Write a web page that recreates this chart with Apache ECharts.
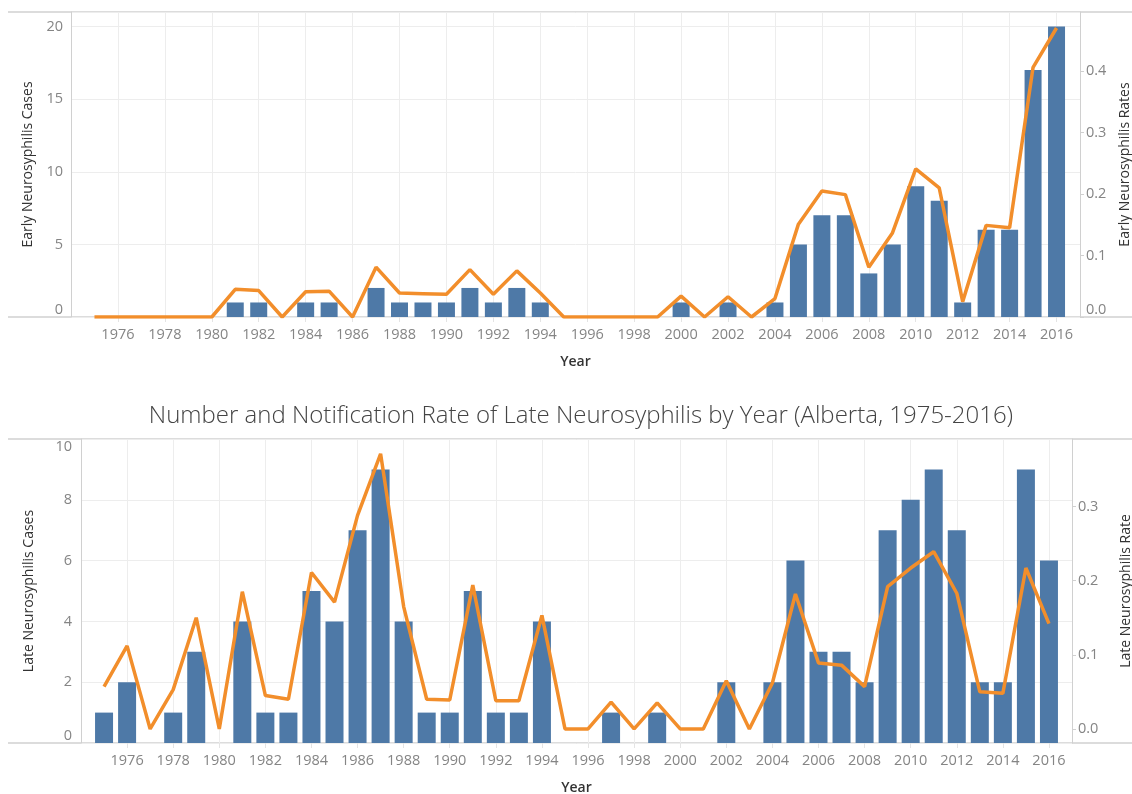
<!DOCTYPE html>
<html lang="en">
  <head>
    <meta charset="UTF-8" />
    <title>Early and Late Neurosyphilis, Alberta 1975-2016</title>
    <script src="https://cdn.jsdelivr.net/npm/echarts@6/dist/echarts.min.js"></script>
    <style>
      html, body { margin: 0; padding: 0; background: #fff; }
      #chart { width: 1132px; height: 794px; }
    </style>
  </head>
  <body>
    <div id="chart"></div>
    <script>
      // years on the x axis
      const years = [
        1975, 1976, 1977, 1978, 1979, 1980, 1981, 1982, 1983, 1984,
        1985, 1986, 1987, 1988, 1989, 1990, 1991, 1992, 1993, 1994,
        1995, 1996, 1997, 1998, 1999, 2000, 2001, 2002, 2003, 2004,
        2005, 2006, 2007, 2008, 2009, 2010, 2011, 2012, 2013, 2014,
        2015, 2016
      ];

      // early neurosyphilis (top panel)
      const earlyCases = [
        0, 0, 0, 0, 0, 0, 1, 1, 0, 1,
        1, 0, 2, 1, 1, 1, 2, 1, 2, 1,
        0, 0, 0, 0, 0, 1, 0, 1, 0, 1,
        5, 7, 7, 3, 5, 9, 8, 1, 6, 6,
        17, 20
      ];
      const earlyRates = [
        0, 0, 0, 0, 0, 0, 0.045, 0.043, 0, 0.041,
        0.042, 0, 0.081, 0.039, 0.038, 0.037, 0.077, 0.037, 0.075, 0.039,
        0, 0, 0, 0, 0, 0.034, 0, 0.033, 0, 0.030,
        0.151, 0.205, 0.199, 0.081, 0.136, 0.241, 0.210, 0.025, 0.149, 0.145,
        0.406, 0.470
      ];

      // late neurosyphilis (bottom panel)
      const lateCases = [
        1, 2, 0, 1, 3, 0, 4, 1, 1, 5,
        4, 7, 9, 4, 1, 1, 5, 1, 1, 4,
        0, 0, 1, 0, 1, 0, 0, 2, 0, 2,
        6, 3, 3, 2, 7, 8, 9, 7, 2, 2,
        9, 6
      ];
      const lateRates = [
        0.057, 0.112, 0, 0.053, 0.150, 0, 0.185, 0.045, 0.040, 0.211,
        0.171, 0.288, 0.371, 0.165, 0.040, 0.039, 0.194, 0.038, 0.038, 0.153,
        0, 0, 0.036, 0, 0.035, 0, 0, 0.065, 0, 0.062,
        0.182, 0.089, 0.086, 0.057, 0.192, 0.217, 0.239, 0.183, 0.050, 0.048,
        0.217, 0.142
      ];

      const rateTicksLate = [0, 0.1, 0.2, 0.3];

      const FONT = "Open Sans";
      const BLUE = "#4e79a7";
      const ORANGE = "#f28e2b";
      const BORDER = "#d0d0d0";
      const GRID = "#ededed";
      const LABEL = "#858585";
      const NAME = "#333";
      const LABEL_SIZE = 14.5;
      const NAME_SIZE = 14;

      const pairs = (vals) => years.map((y, i) => [y, vals[i]]);

      function yearAxis(gridIndex) {
        return {
          type: "value",
          gridIndex: gridIndex,
          min: 1974,
          max: 2017,
          interval: 2,
          name: "Year",
          nameLocation: "middle",
          nameGap: 38,
          nameTextStyle: { fontFamily: FONT, fontSize: NAME_SIZE, color: NAME, fontWeight: 600 },
          axisLine: { show: false },
          axisTick: { show: true, length: 5, lineStyle: { color: "#e4e4e4" } },
          axisLabel: {
            margin: 10,
            fontFamily: FONT,
            fontSize: LABEL_SIZE,
            color: LABEL,
            showMinLabel: false,
            showMaxLabel: false,
            formatter: (v) => String(v)
          },
          splitLine: { show: true, lineStyle: { color: GRID, width: 1 } }
        };
      }

      const chart = echarts.init(document.getElementById("chart"));

      const option = {
        animation: false,
        title: {
          text: "Number and Notification Rate of Late Neurosyphilis by Year (Alberta, 1975-2016)",
          left: 576,
          textAlign: "center",
          top: 399,
          textStyle: { fontFamily: FONT, fontSize: 24, fontWeight: 300, color: "#444" }
        },
        grid: [
          { left: 71, right: 52, top: 12, height: 305, outerBoundsMode: "none" },
          { left: 81, right: 60, top: 439, height: 304, outerBoundsMode: "none" }
        ],
        xAxis: [yearAxis(0), yearAxis(1)],
        yAxis: [
          {
            type: "value",
            gridIndex: 0,
            position: "left",
            min: 0,
            max: 21,
            interval: 5,
            name: "Early Neurosyphilis Cases",
            nameLocation: "middle",
            nameGap: 36,
            nameTextStyle: { fontFamily: FONT, fontSize: NAME_SIZE, color: NAME },
            axisLine: { show: true, lineStyle: { color: BORDER } },
            axisTick: { show: false },
            axisLabel: {
              margin: 8, fontFamily: FONT, fontSize: LABEL_SIZE, color: LABEL,
              showMaxLabel: false, verticalAlignMinLabel: "bottom"
            },
            splitLine: { lineStyle: { color: GRID } }
          },
          {
            type: "value",
            gridIndex: 0,
            position: "right",
            min: 0,
            max: 0.496,
            interval: 0.1,
            name: "Early Neurosyphilis Rates",
            nameLocation: "middle",
            nameGap: 38,
            nameTextStyle: { fontFamily: FONT, fontSize: NAME_SIZE, color: NAME },
            axisLine: { show: true, lineStyle: { color: BORDER } },
            axisTick: { show: true, length: 4, lineStyle: { color: BORDER } },
            axisLabel: {
              margin: 6, fontFamily: FONT, fontSize: LABEL_SIZE, color: LABEL,
              showMaxLabel: false, verticalAlignMinLabel: "bottom",
              formatter: (v) => v.toFixed(1)
            },
            splitLine: { show: false }
          },
          {
            type: "value",
            gridIndex: 1,
            position: "left",
            min: 0,
            max: 10,
            interval: 2,
            name: "Late Neurosyphilis Cases",
            nameLocation: "middle",
            nameGap: 45,
            nameTextStyle: { fontFamily: FONT, fontSize: NAME_SIZE, color: NAME },
            axisLine: { show: true, lineStyle: { color: BORDER } },
            axisTick: { show: false },
            axisLabel: {
              margin: 9, fontFamily: FONT, fontSize: LABEL_SIZE, color: LABEL,
              verticalAlignMinLabel: "bottom", verticalAlignMaxLabel: "top"
            },
            splitLine: { lineStyle: { color: GRID } }
          },
          {
            type: "value",
            gridIndex: 1,
            position: "right",
            min: -0.019,
            max: 0.391,
            name: "Late Neurosyphilis Rate",
            nameLocation: "middle",
            nameGap: 47,
            nameTextStyle: { fontFamily: FONT, fontSize: NAME_SIZE, color: NAME },
            axisLine: { show: true, lineStyle: { color: BORDER } },
            axisTick: { show: true, length: 4, customValues: rateTicksLate, lineStyle: { color: BORDER } },
            axisLabel: {
              margin: 6, fontFamily: FONT, fontSize: LABEL_SIZE, color: LABEL,
              customValues: rateTicksLate,
              formatter: (v) => v.toFixed(1)
            },
            splitLine: { show: false }
          }
        ],
        series: [
          {
            type: "bar",
            xAxisIndex: 0,
            yAxisIndex: 0,
            barWidth: 17,
            itemStyle: { color: BLUE },
            data: pairs(earlyCases)
          },
          {
            type: "line",
            xAxisIndex: 0,
            yAxisIndex: 1,
            symbol: "none",
            lineStyle: { color: ORANGE, width: 3.5 },
            data: pairs(earlyRates)
          },
          {
            type: "bar",
            xAxisIndex: 1,
            yAxisIndex: 2,
            barWidth: 18,
            itemStyle: { color: BLUE },
            data: pairs(lateCases)
          },
          {
            type: "line",
            xAxisIndex: 1,
            yAxisIndex: 3,
            symbol: "none",
            lineStyle: { color: ORANGE, width: 3.5 },
            data: pairs(lateRates)
          }
        ],
        // pane borders that run across the whole width, as in the original dashboard
        graphic: [
          { type: "line", shape: { x1: 8, y1: 12, x2: 1132, y2: 12 }, style: { stroke: BORDER, lineWidth: 1.5 }, silent: true },
          { type: "line", shape: { x1: 8, y1: 317, x2: 1132, y2: 317 }, style: { stroke: BORDER, lineWidth: 1.5 }, silent: true },
          { type: "line", shape: { x1: 8, y1: 439, x2: 1132, y2: 439 }, style: { stroke: BORDER, lineWidth: 1.5 }, silent: true },
          { type: "line", shape: { x1: 8, y1: 743, x2: 1132, y2: 743 }, style: { stroke: BORDER, lineWidth: 1.5 }, silent: true }
        ]
      };

      chart.setOption(option);
    </script>
  </body>
</html>
